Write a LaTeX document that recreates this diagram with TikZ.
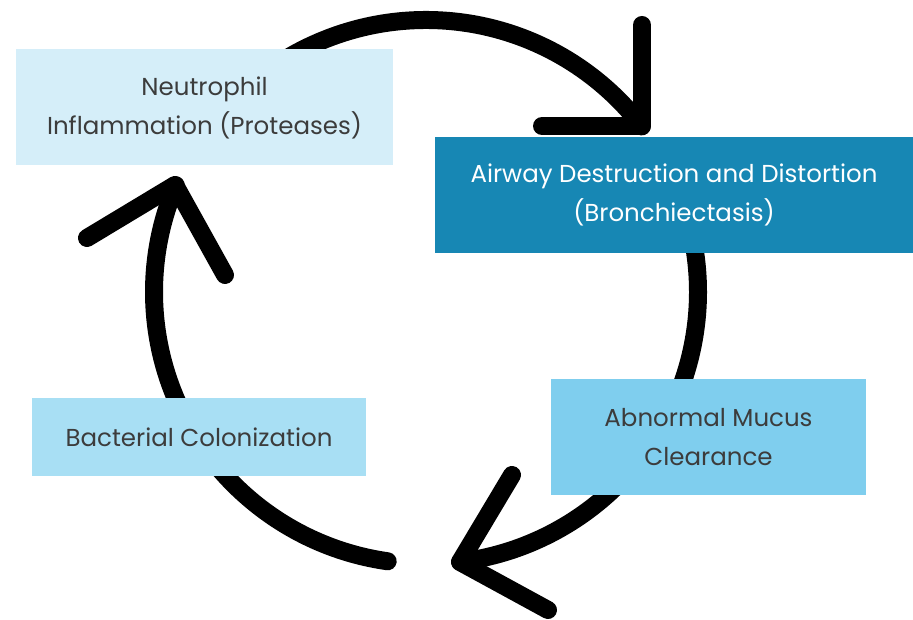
\documentclass[tikz,border=0pt]{standalone}
\usepackage{fontspec}
\setmainfont{Poppins}
\definecolor{boxA}{HTML}{D5EEF9}
\definecolor{boxB}{HTML}{1787B4}
\definecolor{boxC}{HTML}{7FCEEE}
\definecolor{boxD}{HTML}{A8DFF4}
\definecolor{txt}{HTML}{3C3C3C}
\begin{document}
\begin{tikzpicture}[x=1pt,y=1pt,
  loopline/.style={line width=18pt, line cap=round, line join=round, black},
  stagebox/.style={rectangle, inner sep=0pt, align=center, text=txt,
    font=\fontsize{24.5}{39}\selectfont}]
\useasboundingbox (0,0) rectangle (913,620);
\coordinate (c) at (426,328);
% arcs
\draw[loopline] ([shift={(140:272)}]c) arc[start angle=140, end angle=37.5, radius=272];
\draw[loopline] ([shift={(15:272)}]c) arc[start angle=15, end angle=-82.8, radius=272];
\draw[loopline] ([shift={(-98.1:272)}]c) arc[start angle=-98.1, end angle=-203.1, radius=272];
% arrowheads
\coordinate (a1) at (642,595); \coordinate (a2) at (642,494); \coordinate (a3) at (542,494);
\draw[loopline] (a1) -- (a2) -- (a3);
\coordinate (b1) at (512,145); \coordinate (b2) at (460,58); \coordinate (b3) at (548,10);
\draw[loopline] (b1) -- (b2) -- (b3);
\coordinate (c1) at (87,382); \coordinate (c2) at (175,435); \coordinate (c3) at (225,345);
\draw[loopline] (c1) -- (c2) -- (c3);
% boxes
\node[stagebox, fill=boxA, minimum width=377pt, minimum height=116pt] (neut) at (204.5,512.5)
  {\raisebox{-3pt}{Neutrophil}\\\raisebox{-3pt}{Inflammation (Proteases)}};
\node[stagebox, fill=boxB, text=white, minimum width=478pt, minimum height=116pt] (airway) at (674,425)
  {Airway Destruction and Distortion\\(Bronchiectasis)};
\node[stagebox, fill=boxC, minimum width=315pt, minimum height=116pt] (mucus) at (708.5,182.5)
  {Abnormal Mucus\\Clearance};
\node[stagebox, fill=boxD, minimum width=334pt, minimum height=78pt] (bact) at (199,183)
  {Bacterial Colonization};
\end{tikzpicture}
\end{document}
